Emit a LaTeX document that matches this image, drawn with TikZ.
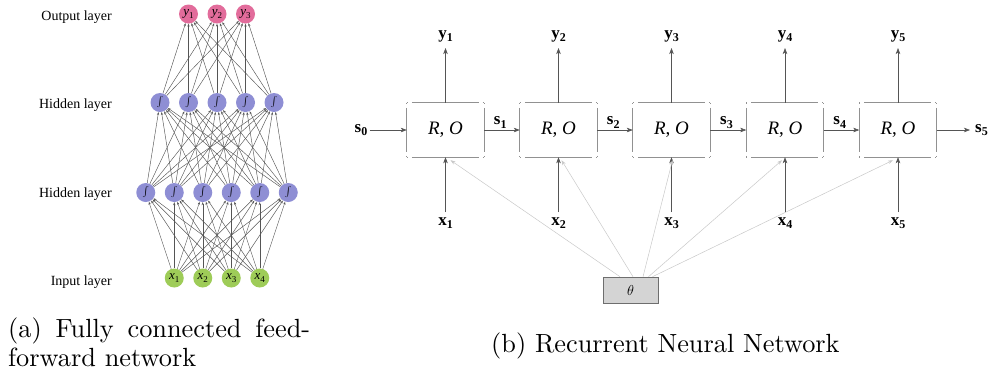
\documentclass[tikz,border=0pt]{standalone}
\usepackage{fontspec}
\newfontfamily\dfont{Liberation Serif}
\newfontfamily\capfont{lmroman10-regular.otf}
\usetikzlibrary{arrows.meta}
\definecolor{outc}{RGB}{226,108,155}
\definecolor{hidc}{RGB}{142,142,212}
\definecolor{inc}{RGB}{158,204,88}
\definecolor{edgec}{RGB}{85,85,85}
\definecolor{boxc}{RGB}{145,145,145}
\definecolor{thfill}{RGB}{212,212,212}
\definecolor{thdraw}{RGB}{110,110,110}
\definecolor{garc}{RGB}{200,200,200}
\newcommand\bsub[2]{\textbf{#1}\raisebox{-3.5pt}{\fontsize{12}{12}\selectfont\textbf{#2}}}
\newcommand\isub[2]{\textit{#1}\raisebox{-2.5pt}{\fontsize{9}{9}\selectfont #2}}
\tikzset{
  neuron/.style={circle, minimum size=19pt, inner sep=0pt, draw=none, font=\dfont\fontsize{13}{13}\selectfont},
  outn/.style={neuron, fill=outc},
  hidn/.style={neuron, fill=hidc},
  inn/.style={neuron, fill=inc},
  layerlbl/.style={anchor=east, inner sep=0pt, font=\dfont\fontsize{14}{14}\selectfont},
  nnedge/.style={draw=edgec, line width=0.45pt, -{Stealth[length=3pt,width=2.2pt]}},
  rbox/.style={minimum width=77pt, minimum height=54pt, inner sep=0pt, draw=none, font=\dfont\fontsize{19}{19}\selectfont},
  blk/.style={draw=edgec, line width=0.6pt, -{Stealth[length=6pt,width=4.5pt,inset=1.5pt]}},
  garrow/.style={draw=garc, line width=0.5pt, -{Stealth[length=5pt,width=3.5pt]}},
  lbl/.style={inner sep=0pt, text=black, font=\dfont\fontsize{17}{17}\selectfont},
  bline/.style={draw=boxc, line width=0.75pt},
  thbox/.style={draw=thdraw, fill=thfill, line width=0.6pt, minimum width=55pt, minimum height=26pt, inner sep=0pt, font=\fontsize{15}{15}\selectfont},
  captext/.style={anchor=base west, inner sep=0pt, font=\capfont\fontsize{26.3}{29}\selectfont}
}
\begin{document}
\begin{tikzpicture}[x=1pt,y=-1pt]
\useasboundingbox (0,0) rectangle (995,376);
% ---------- left panel ----------
\foreach \k in {1,2,3}{
  \node[outn] (o\k) at ({217+(\k-2)*28.5},14) {\isub{y}{\k}};
}
\foreach \k in {1,...,5}{
  \node[hidn] (b\k) at ({217+(\k-3)*28.5},102.5) {$\int$};
}
\foreach \k in {1,...,6}{
  \node[hidn] (a\k) at ({217+(\k-3.5)*28.5},192.5) {$\int$};
}
\foreach \k in {1,...,4}{
  \node[inn] (i\k) at ({217+(\k-2.5)*28.5},278) {\isub{x}{\k}};
}
\foreach \i in {1,...,4}{\foreach \j in {1,...,6}{\draw[nnedge] (i\i) -- (a\j);}}
\foreach \i in {1,...,6}{\foreach \j in {1,...,5}{\draw[nnedge] (a\i) -- (b\j);}}
\foreach \i in {1,...,5}{\foreach \j in {1,...,3}{\draw[nnedge] (b\i) -- (o\j);}}
\node[layerlbl] (lo) at (112,17) {Output layer};
\node[layerlbl] (lh2) at (112,105) {Hidden layer};
\node[layerlbl] (lh1) at (112,194) {Hidden layer};
\node[layerlbl] (li) at (112,282) {Input layer};
\node[captext] (capa1) at (8,337) {\makebox[302pt][s]{(a) Fully connected feed-}};
\node[captext] (capa2) at (8,366) {forward network};
% ---------- right panel ----------
\foreach \k/\cx in {1/445.5,2/558.5,3/671.5,4/785,5/898}{
  \node[rbox] (r\k) at (\cx,130) {\textit{R}, \textit{O}};
  \draw[bline, dash pattern=on 1pt off 4pt on 67pt off 4pt on 1pt] (r\k.north west) -- (r\k.north east);
  \draw[bline, dash pattern=on 1pt off 4pt on 67pt off 4pt on 1pt] (r\k.south west) -- (r\k.south east);
  \draw[bline, dash pattern=on 1pt off 4pt on 44pt off 4pt on 1pt] (r\k.north west) -- (r\k.south west);
  \draw[bline, dash pattern=on 1pt off 4pt on 44pt off 4pt on 1pt] (r\k.north east) -- (r\k.south east);
  \node[lbl, anchor=south] (y\k) at (\cx,42) {\bsub{y}{\k}};
  \node[lbl, anchor=north] (x\k) at (\cx,217) {\bsub{x}{\k}};
  \draw[blk, shorten >=6pt] (r\k.north) -- (y\k.south);
  \draw[blk, shorten <=5pt] (x\k.north) -- (r\k.south);
}
\node[lbl, inner sep=2pt] (s0) at (361,130) {\bsub{s}{0}};
\draw[blk] (s0) -- (r1.west);
\foreach \a/\b in {1/2,2/3,3/4,4/5}{
  \draw[blk] (r\a.east) -- node[lbl, above, pos=0.45, inner sep=1.5pt] (s\a) {\bsub{s}{\a}} (r\b.west);
}
\node[lbl, anchor=west, inner sep=0pt] (s5) at (975,130) {\bsub{s}{5}};
\draw[blk, shorten >=5pt] (r5.east) -- (s5.west);
\node[thbox] (th) at (630.5,290) {$\theta$};
\draw[garrow] ([xshift=-10.5pt]th.north) -- ([xshift=5pt,yshift=-3pt]r1.south);
\draw[garrow] ([xshift=2.5pt]th.north) -- ([xshift=3pt,yshift=-3pt]r2.south);
\draw[garrow] ([xshift=12.5pt]th.north) -- ([xshift=1pt,yshift=-3pt]r3.south);
\draw[garrow] ([xshift=18pt]th.north) -- ([xshift=-3pt,yshift=-3pt]r4.south);
\draw[garrow] ([xshift=22pt]th.north) -- ([xshift=-5pt,yshift=-3pt]r5.south);
\node[captext] (capb) at (491,352) {(b) Recurrent Neural Network};
\end{tikzpicture}
\end{document}
